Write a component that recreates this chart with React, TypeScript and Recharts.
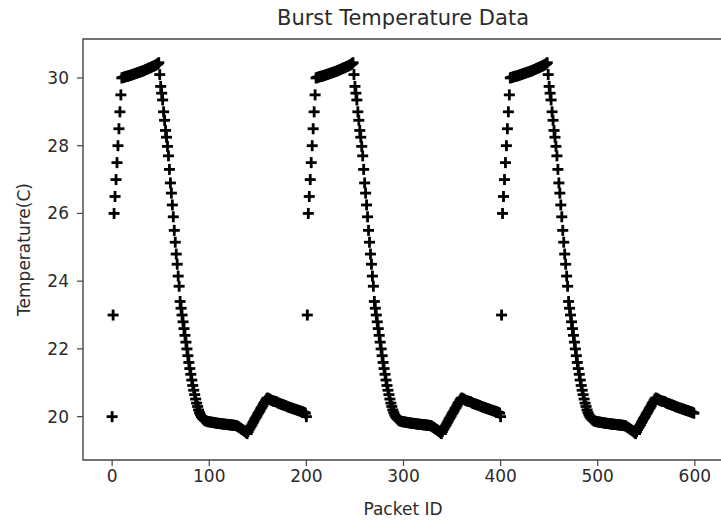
import { ScatterChart, Scatter, XAxis, YAxis, ReferenceArea } from 'recharts'

// one burst of packets (packet 0..199); the same profile repeats
const burstTemps = [
  20.0, 23.0, 26.0, 26.5, 27.0, 27.5, 28.0, 28.5, 29.0, 29.5,
  30.0, 30.01, 30.02, 30.03, 30.04, 30.05, 30.05, 30.06, 30.07, 30.08,
  30.09, 30.1, 30.11, 30.12, 30.13, 30.14, 30.15, 30.16, 30.17, 30.18,
  30.19, 30.2, 30.21, 30.22, 30.24, 30.25, 30.26, 30.28, 30.29, 30.3,
  30.31, 30.33, 30.34, 30.35, 30.37, 30.38, 30.4, 30.42, 30.45,
  30.1, 29.75, 29.55, 29.35, 29.0, 28.75, 28.45, 28.25, 27.98, 27.7,
  27.3, 26.9, 26.6, 26.25, 25.9, 25.5, 25.15, 24.8, 24.5, 24.15, 23.85, 23.4,
  23.2, 23.0, 22.8, 22.6, 22.4, 22.2, 22.0, 21.8, 21.6, 21.42,
  21.25, 21.08, 20.92, 20.78, 20.65,
  20.52, 20.4, 20.3, 20.2, 20.12, 20.05, 20.0, 19.96, 19.93, 19.9,
  19.88, 19.87, 19.86, 19.85, 19.85, 19.84, 19.84, 19.83, 19.83, 19.82,
  19.82, 19.81, 19.81, 19.8, 19.8, 19.8, 19.79, 19.79, 19.78, 19.78,
  19.78, 19.77, 19.77, 19.77, 19.76, 19.76, 19.76, 19.75, 19.75, 19.75,
  19.74, 19.74, 19.73, 19.72, 19.7,
  19.68, 19.66, 19.64, 19.62, 19.6, 19.58, 19.56, 19.53, 19.5,
  19.56, 19.62, 19.67, 19.72, 19.76, 19.82, 19.87, 19.93, 19.97, 20.02,
  20.08, 20.12, 20.17, 20.23, 20.27, 20.32, 20.38, 20.42, 20.47, 20.52, 20.55,
  20.53, 20.52, 20.5, 20.48, 20.47, 20.46, 20.45, 20.45, 20.44, 20.42,
  20.4, 20.39, 20.38, 20.37, 20.36, 20.35, 20.34, 20.33, 20.32, 20.3,
  20.29, 20.28, 20.27, 20.26, 20.25, 20.24, 20.23, 20.22, 20.21, 20.2,
  20.19, 20.18, 20.17, 20.16, 20.15, 20.14, 20.13, 20.12, 20.1,
]
const burstStarts = [0, 200, 400]

const xTicks = [0, 100, 200, 300, 400, 500, 600]
const yTicks = [20, 22, 24, 26, 28, 30]

const X_DOMAIN: [number, number] = [-30, 629]
const Y_DOMAIN: [number, number] = [18.72, 31.15]

const data = burstStarts.flatMap((start) =>
  burstTemps.map((t, i) => ({ id: start + i, temp: t }))
)

const FONT = '"DejaVu Sans", sans-serif'
const TXT = '#2b2b2b'

function Plus(props: any) {
  const { cx, cy } = props
  if (cx == null || cy == null) return null
  return (
    <g>
      <line x1={cx - 5.5} y1={cy} x2={cx + 5.5} y2={cy} stroke="#000" strokeWidth={2.8} />
      <line x1={cx} y1={cy - 5.5} x2={cx} y2={cy + 5.5} stroke="#000" strokeWidth={2.8} />
    </g>
  )
}

export default function App() {
  return (
    <div style={{ position: 'absolute', left: 0, top: 0, width: 721, height: 522, overflow: 'hidden', background: '#fff' }}>
      <div
        style={{
          position: 'absolute', left: 0, top: 6, width: 806, textAlign: 'center',
          fontFamily: FONT, fontSize: 21, color: TXT,
        }}
      >
        Burst Temperature Data
      </div>
      <ScatterChart width={732} height={522} margin={{ top: 39, right: 9, bottom: 0, left: 0 }}>
        <XAxis
          type="number"
          dataKey="id"
          domain={X_DOMAIN}
          ticks={xTicks}
          allowDataOverflow
          height={62}
          tickSize={6}
          tickMargin={4}
          axisLine={false}
          tickLine={{ stroke: '#444', strokeWidth: 1.2 }}
          tick={{ fill: TXT, fontSize: 17, fontFamily: FONT }}
          label={{ value: 'Packet ID', position: 'insideBottom', offset: 7, fill: TXT, fontSize: 17, fontFamily: FONT }}
        />
        <YAxis
          type="number"
          dataKey="temp"
          domain={Y_DOMAIN}
          ticks={yTicks}
          allowDataOverflow
          width={83}
          tickSize={6}
          tickMargin={8}
          axisLine={false}
          tickLine={{ stroke: '#444', strokeWidth: 1.2 }}
          tick={{ fill: TXT, fontSize: 17, fontFamily: FONT }}
          label={{ value: 'Temperature(C)', angle: -90, position: 'insideLeft', offset: 24, fill: TXT, fontSize: 17, fontFamily: FONT, style: { textAnchor: 'middle' } }}
        />
        <ReferenceArea
          x1={X_DOMAIN[0]}
          x2={X_DOMAIN[1]}
          y1={Y_DOMAIN[0]}
          y2={Y_DOMAIN[1]}
          fill="none"
          stroke="#444"
          strokeWidth={1.4}
          ifOverflow="visible"
        />
        <Scatter data={data} shape={Plus} isAnimationActive={false} />
      </ScatterChart>
    </div>
  )
}
